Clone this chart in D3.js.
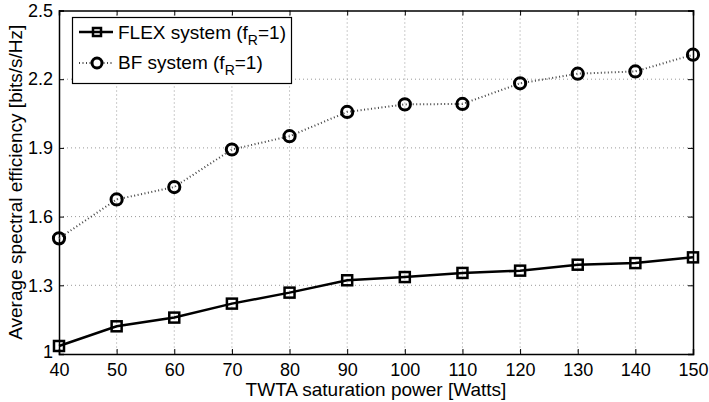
<!DOCTYPE html>
<html><head><meta charset="utf-8">
<script src="https://cdn.jsdelivr.net/npm/d3@7"></script>
<style>body{margin:0;background:#fff}svg{display:block}text{font-family:"Liberation Sans",Arial,sans-serif}</style>
</head><body><svg id="c" width="709" height="402"></svg>
<script>
const power = [40,50,60,70,80,90,100,110,120,130,140,150];
const flex = [1.035,1.121,1.159,1.220,1.268,1.322,1.336,1.354,1.364,1.390,1.397,1.422];
const bf = [1.505,1.675,1.729,1.893,1.951,2.057,2.090,2.092,2.182,2.224,2.234,2.307];
const xTicks = [40,50,60,70,80,90,100,110,120,130,140,150];
const yTicks = [1,1.3,1.6,1.9,2.2,2.5];
const yTickLabels = ["1","1.3","1.6","1.9","2.2","2.5"];
const seriesNames = ["FLEX system (f", "BF system (f"];

const svg = d3.select("#c");
const L=59,R=693,T=10.5,B=354;
const x = d3.scaleLinear().domain([40,150]).range([L,R]);
const y = d3.scaleLinear().domain([1,2.5]).range([B,T]);

// grid
const g = svg.append("g");
g.selectAll(".vg").data(xTicks.slice(1,-1)).enter().append("line")
 .attr("x1",d=>x(d)).attr("x2",d=>x(d)).attr("y1",T).attr("y2",B)
 .attr("stroke","#999").attr("stroke-width",1).attr("stroke-dasharray","1,3");
g.selectAll(".hg").data(yTicks.slice(1,-1)).enter().append("line")
 .attr("y1",d=>y(d)).attr("y2",d=>y(d)).attr("x1",L).attr("x2",R)
 .attr("stroke","#999").attr("stroke-width",1).attr("stroke-dasharray","1,3");

// axes
const fmt = (d)=>yTickLabels[yTicks.indexOf(d)];
const ax = [
 svg.append("g").attr("transform",`translate(0,${B})`).call(d3.axisBottom(x).tickValues(xTicks).tickSize(-5).tickPadding(9)),
 svg.append("g").attr("transform",`translate(0,${T})`).call(d3.axisTop(x).tickValues(xTicks).tickSize(-5).tickFormat("")),
 svg.append("g").attr("transform",`translate(${L},0)`).call(d3.axisLeft(y).tickValues(yTicks).tickSize(-5).tickPadding(6).tickFormat(fmt)),
 svg.append("g").attr("transform",`translate(${R},0)`).call(d3.axisRight(y).tickValues(yTicks).tickSize(-5).tickFormat(""))
];
ax.forEach(a=>{a.select(".domain").attr("stroke","#000").attr("stroke-width",1.5);
 a.selectAll(".tick line").attr("stroke","#000").attr("stroke-width",1);
 a.selectAll("text").attr("font-size",18).attr("fill","#000").attr("font-family","Liberation Sans, Arial, sans-serif");});
ax[2].selectAll(".tick text").filter(d=>d===1).attr("dy","0.22em");

// lines
const line = d3.line().x((d,i)=>x(power[i])).y(d=>y(d));
svg.append("path").datum(bf).attr("d",line).attr("fill","none").attr("stroke","#444").attr("stroke-width",2).attr("stroke-dasharray","1,2.5");
svg.append("path").datum(flex).attr("d",line).attr("fill","none").attr("stroke","#000").attr("stroke-width",2.5);

svg.selectAll(".bfm").data(bf).enter().append("circle")
 .attr("cx",(d,i)=>x(power[i])).attr("cy",d=>y(d)).attr("r",5.6)
 .attr("fill","none").attr("stroke","#000").attr("stroke-width",3);
svg.selectAll(".flm").data(flex).enter().append("rect")
 .attr("x",(d,i)=>x(power[i])-5).attr("y",d=>y(d)-5).attr("width",10).attr("height",10)
 .attr("fill","none").attr("stroke","#000").attr("stroke-width",2.5);

// legend
const lg = svg.append("g");
lg.append("rect").attr("x",72.5).attr("y",17.5).attr("width",219).attr("height",66).attr("fill","#fff").attr("stroke","#000").attr("stroke-width",1.2);
const rows=[39,69];
lg.append("line").attr("x1",79).attr("x2",113).attr("y1",32).attr("y2",32).attr("stroke","#000").attr("stroke-width",2.5);
lg.append("rect").attr("x",93).attr("y",28).attr("width",8).attr("height",8).attr("fill","none").attr("stroke","#000").attr("stroke-width",2.5);
lg.append("line").attr("x1",79).attr("x2",113).attr("y1",63).attr("y2",63).attr("stroke","#444").attr("stroke-width",2).attr("stroke-dasharray","1,2.5");
lg.append("circle").attr("cx",97).attr("cy",63).attr("r",5).attr("fill","#fff").attr("stroke","#000").attr("stroke-width",3);
seriesNames.forEach((n,i)=>{
 const t = lg.append("text").attr("x",118).attr("y",rows[i]).attr("font-size",19).attr("fill","#000");
 t.append("tspan").text(n);
 t.append("tspan").attr("font-size",14).attr("dy",6).text("R");
 t.append("tspan").attr("dy",-6).text("=1)");
});

// axis labels
svg.append("text").attr("x",(L+R)/2).attr("y",396).attr("text-anchor","middle").attr("font-size",19).text("TWTA saturation power [Watts]");
svg.append("text").attr("transform",`translate(22,${(T+B)/2}) rotate(-90)`).attr("text-anchor","middle").attr("font-size",19).text("Average spectral efficiency [bits/s/Hz]");
</script></body></html>
